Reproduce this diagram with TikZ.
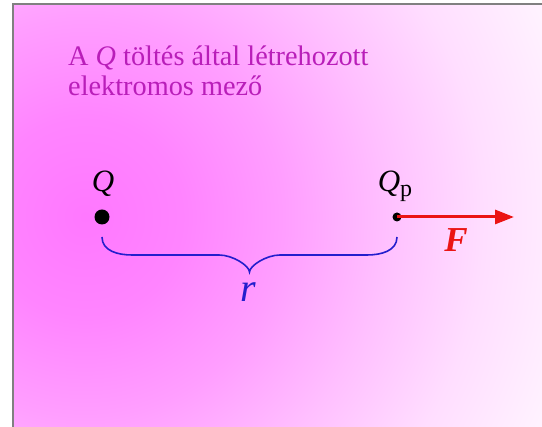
\documentclass[tikz,border=0pt]{standalone}
\usepackage{fontspec}
\setmainfont{Liberation Serif}
\usepackage{xcolor}
\usetikzlibrary{arrows.meta}
\definecolor{titlemag}{RGB}{185,30,185}
\definecolor{fieldblue}{RGB}{35,30,205}
\definecolor{forcered}{RGB}{235,20,20}
\definecolor{framegray}{RGB}{128,128,128}
\definecolor{fieldlight}{RGB}{255,245,255}
\pgfdeclareradialshading{fieldglow}{\pgfpoint{0bp}{0bp}}{%
  rgb(0bp)=(1,0.47,1); rgb(4.8bp)=(1,0.52,1); rgb(9.6bp)=(1,0.62,1);
  rgb(14.4bp)=(1,0.75,1); rgb(19.2bp)=(1,0.87,1); rgb(24bp)=(1,0.95,1);
  rgb(50bp)=(1,0.96,1)}

\begin{document}
\begin{tikzpicture}[x=1pt,y=1pt,
  charge/.style={circle,fill=black,inner sep=0pt},
  sym/.style={anchor=base,inner sep=0pt}]
\useasboundingbox (0,0) rectangle (542,427);
% background field
\begin{scope}
\clip (13,0) rectangle (542,423);
\fill[fieldlight] (13,0) rectangle (542,423);
\shade[shading=fieldglow] (85,210) circle (520);
\end{scope}
\draw[framegray,line width=2] (13,0) -- (13,423) -- (542,423);
% title
\node[sym,anchor=base west,text=titlemag,align=left,
  font=\fontsize{28.3}{30.5}\selectfont] (title) at (68,331)
  {A \textit{Q} töltés által létrehozott\\elektromos mező};
% charges
\node[charge,minimum size=15] (Q) at (102,210) {};
\node[charge,minimum size=9] (Qp) at (397,210) {};
\node[sym,font=\fontsize{31}{31}\selectfont] (Qlbl) at (103,235) {\textit{Q}};
\node[sym,font=\fontsize{31}{31}\selectfont] (Qplbl) at (395,235) {\textit{Q}{\fontsize{24}{24}\selectfont\raisebox{-5pt}{p}}};
% force
\coordinate (Fend) at (514,210);
\draw[forcered,line width=3,-{Triangle[length=19,width=14]}] (Qp.center) -- (Fend);
\node[sym,text=forcered,font=\fontsize{35}{35}\selectfont\bfseries\itshape] (Flbl) at (456,175) {F};
% distance
\coordinate (bl) at (102,190);
\coordinate (br) at (397,190);
\coordinate (tip) at (249.5,155);
\draw[fieldblue,line width=1.6] (bl) .. controls +(0,-14) and +(-14,0) .. ++(30,-18)
  -- ++(87,0) .. controls +(14,0) and +(0,6) .. (tip)
  .. controls +(0,6) and +(-14,0) .. ++(30.5,17) -- ++(87,0)
  .. controls +(14,0) and +(0,-14) .. (br);
\node[sym,text=fieldblue,font=\fontsize{40}{40}\selectfont\itshape] (rlbl) at (248,125) {r};
\end{tikzpicture}
\end{document}
